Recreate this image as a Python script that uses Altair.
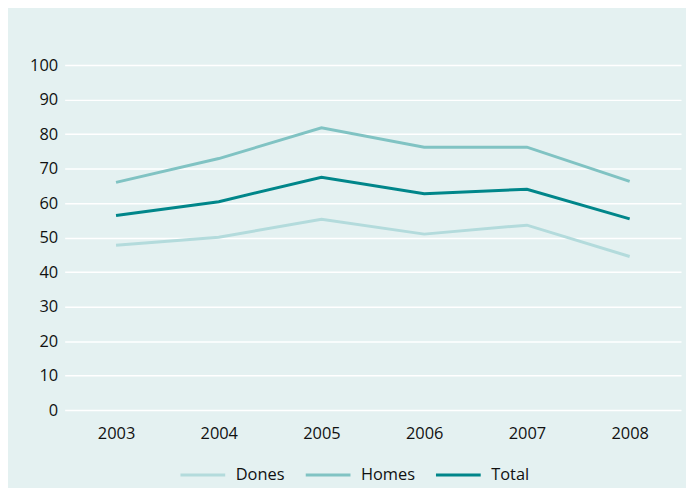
import altair as alt
import pandas as pd

years = ["2003", "2004", "2005", "2006", "2007", "2008"]
dones = [47.8, 50.1, 55.3, 51.0, 53.6, 44.5]
homes = [66.0, 72.9, 81.8, 76.2, 76.2, 66.3]
total = [56.4, 60.4, 67.5, 62.7, 64.0, 55.4]
series = ["Dones", "Homes", "Total"]
colors = ["#b3dbdc", "#80c3c3", "#00868a"]

rows = []
for name, vals in zip(series, [dones, homes, total]):
    for y, v in zip(years, vals):
        rows.append({"Any": y, "Valor": v, "Serie": name})
df = pd.DataFrame(rows)

font = "Open Sans"
fs = 16.5

chart = alt.Chart(df).mark_line(strokeWidth=3).encode(
    x=alt.X("Any:N", sort=years, scale=alt.Scale(paddingOuter=0.5, paddingInner=1),
            axis=alt.Axis(title=None, labelAngle=0, ticks=False, domain=False, grid=False,
                          labelPadding=16, labelFontSize=fs, labelFont=font, labelColor="#111111")),
    y=alt.Y("Valor:Q", scale=alt.Scale(domain=[0, 100]),
            axis=alt.Axis(title=None, values=list(range(0, 101, 10)), ticks=False, domain=False,
                          labelPadding=7, labelFontSize=fs, labelFont=font, labelColor="#111111",
                          gridColor="#ffffff", gridWidth=1.5)),
    color=alt.Color("Serie:N", sort=series, scale=alt.Scale(domain=series, range=colors),
                    legend=alt.Legend(title=None, orient="none", direction="horizontal",
                                      legendX=115, legendY=388, symbolType="stroke",
                                      symbolSize=2025, symbolStrokeWidth=3,
                                      labelFontSize=fs, labelFont=font, labelColor="#111111",
                                      columnPadding=14, labelOffset=9)),
).properties(
    width=620, height=347,
    background="#e4f1f1",
    padding={"left": 57, "top": 56, "right": 5, "bottom": 77},
    autosize=alt.AutoSizeParams(type="none"),
).configure_view(stroke=None)

chart.save("out.html", embed_options={"renderer": "svg", "actions": False})
